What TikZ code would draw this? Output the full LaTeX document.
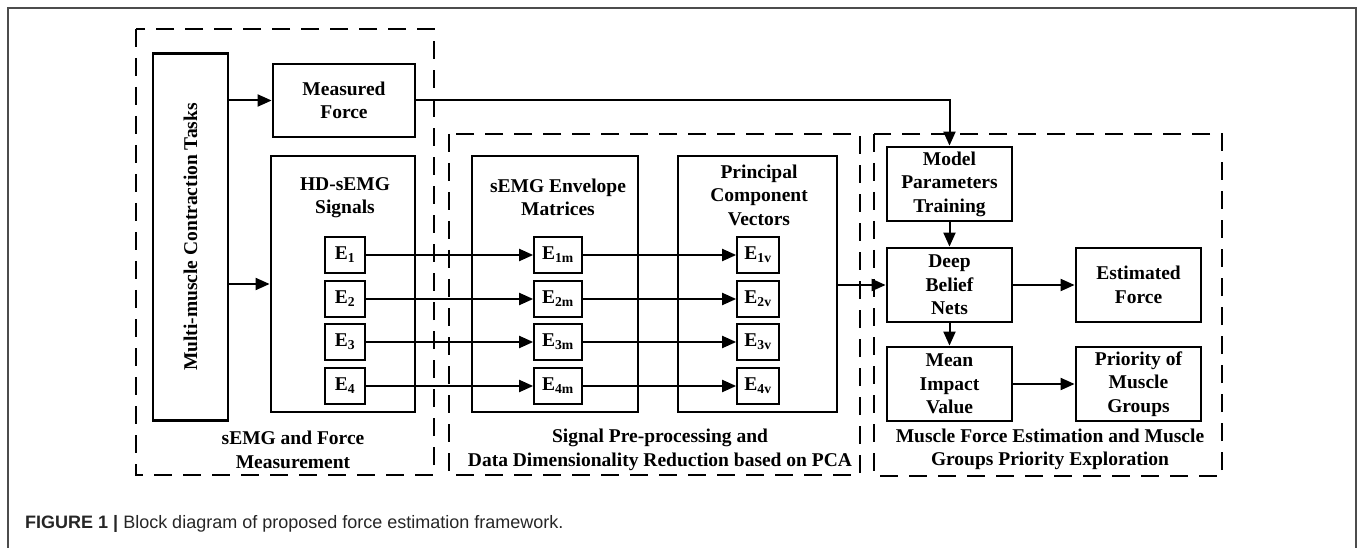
\documentclass[tikz,border=0pt]{standalone}
\usepackage{fontspec}
\setmainfont{Liberation Serif}
\newfontfamily\capfont{Liberation Sans}
\usetikzlibrary{arrows.meta}

\tikzset{
  txt/.style={font=\fontsize{19.5}{23.5}\selectfont\bfseries, align=center, inner sep=0pt},
  blk/.style={draw, line width=2.8pt, inner sep=0pt, txt},
  sig/.style={draw, line width=1.7pt, inner sep=0pt, minimum height=36pt, txt},
  region/.style={draw, line width=2.8pt, dash pattern=on 18pt off 11pt},
  arr/.style={line width=2pt, -{Triangle[length=14pt,width=12pt]}},
}

\begin{document}
\begin{tikzpicture}[x=1pt, y=-1pt]
\useasboundingbox (0,0) rectangle (1358,548);

% page frame
\draw[line width=1.4pt, draw=black!70] (8,548) -- (8,8) -- (1356,8) -- (1356,548);

% dashed stage regions
\draw[region] (136,29) rectangle (434,475);
\draw[region] (449,134) rectangle (860,475);
\draw[region] (874,134) rectangle (1222,476);

% stage 1: acquisition
\node[blk, minimum width=75pt, minimum height=367pt] (multi) at (190.5,237) {};
\node[txt, rotate=90] (multit) at (multi.center) {Multi-muscle Contraction Tasks};
\node[blk, minimum width=142pt, minimum height=73pt] (mforce) at (344,100.5) {Measured\\Force};
\node[blk, minimum width=144pt, minimum height=256pt] (hd) at (343,284) {};
\node[txt] (hdt) at (345,197.5) {HD-sEMG\\Signals};
\node[sig, minimum width=40pt] (e1) at (345,255) {E\textsubscript{1}};
\node[sig, minimum width=40pt] (e2) at (345,299) {E\textsubscript{2}};
\node[sig, minimum width=40pt] (e3) at (345,342) {E\textsubscript{3}};
\node[sig, minimum width=40pt] (e4) at (345,386) {E\textsubscript{4}};
\node[txt] (lab1) at (293,450) {sEMG and Force\\Measurement};

% stage 2: preprocessing and PCA
\node[blk, minimum width=166pt, minimum height=256pt] (env) at (555,284) {};
\node[txt] (envt) at (558,197.5) {sEMG Envelope\\Matrices};
\node[sig, minimum width=48pt] (e1m) at (558,255) {E\textsubscript{1m}};
\node[sig, minimum width=48pt] (e2m) at (558,299) {E\textsubscript{2m}};
\node[sig, minimum width=48pt] (e3m) at (558,342) {E\textsubscript{3m}};
\node[sig, minimum width=48pt] (e4m) at (558,386) {E\textsubscript{4m}};
\node[blk, minimum width=159pt, minimum height=256pt] (pc) at (757.5,284) {};
\node[txt] (pct) at (759,195) {Principal\\Component\\Vectors};
\node[sig, minimum width=42pt] (e1v) at (758,255) {E\textsubscript{1v}};
\node[sig, minimum width=42pt] (e2v) at (758,299) {E\textsubscript{2v}};
\node[sig, minimum width=42pt] (e3v) at (758,342) {E\textsubscript{3v}};
\node[sig, minimum width=42pt] (e4v) at (758,386) {E\textsubscript{4v}};
\node[txt] (lab2) at (660,450) {Signal Pre-processing and\\Data Dimensionality Reduction based on PCA};

% stage 3: estimation
\node[blk, minimum width=125pt, minimum height=74pt] (model) at (949.5,184) {Model\\Parameters\\Training};
\node[blk, minimum width=125pt, minimum height=74pt] (dbn) at (949.5,285) {Deep\\Belief\\Nets};
\node[blk, minimum width=125pt, minimum height=74pt] (miv) at (949.5,384) {Mean\\Impact\\Value};
\node[blk, minimum width=125pt, minimum height=74pt] (est) at (1138.5,285) {Estimated\\Force};
\node[blk, minimum width=125pt, minimum height=74pt] (prio) at (1138.5,384) {Priority of\\Muscle\\Groups};
\node[txt] (lab3) at (1050,449.5) {Muscle Force Estimation and Muscle\\Groups Priority Exploration};

% connectors
\draw[arr] (multi.east |- mforce.west) -- (mforce.west);
\draw[arr] (multi.east |- hd.west) -- (hd.west);
\draw[arr] (mforce.east) -- (mforce.east -| model.north) -- (model.north);
\foreach \i in {1,2,3,4}{
  \draw[arr] (e\i.east) -- (e\i m.west);
  \draw[arr] (e\i m.east) -- (e\i v.west);
}
\draw[arr] (pc.east |- dbn.west) -- (dbn.west);
\draw[arr] (model.south) -- (dbn.north);
\draw[arr] (dbn.south) -- (miv.north);
\draw[arr] (dbn.east) -- (est.west);
\draw[arr] (miv.east) -- (prio.west);

% caption
\node[anchor=west, inner sep=0pt, font=\capfont\fontsize{18}{21}\selectfont, text=black!85] (cap) at (25,524)
  {\textbf{FIGURE 1 |} Block diagram of proposed force estimation framework.};
\end{tikzpicture}
\end{document}
